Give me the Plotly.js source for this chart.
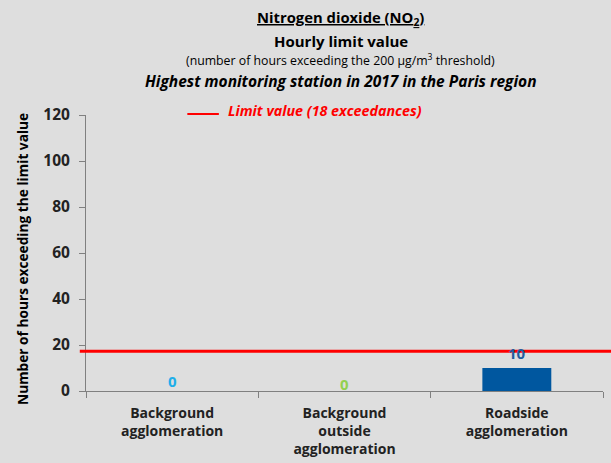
<!DOCTYPE html>
<html>
<head>
<meta charset="utf-8">
<script src="https://cdn.plot.ly/plotly-3.0.1.min.js"></script>
<style>html,body{margin:0;padding:0;background:#dedede;}</style>
</head>
<body>
<div id="chart" style="width:611px;height:463px;"></div>
<script>
const categories = ["Background<br>agglomeration", "Background<br>outside<br>agglomeration", "Roadside<br>agglomeration"];
const values = [0, 0, 10];
const labelColors = ["#20AEEA", "#92D050", "#1F5C9E"];
const labelShifts = [-2, -5, 3];
const limitLine = 17.3;
const limitLabel = "Limit value (18 exceedances)";
const yTicks = [0, 20, 40, 60, 80, 100, 120];

const FONT = "'Open Sans', Lato, sans-serif";
const TX = 0.493;

const trace = {
  type: "bar",
  x: categories,
  y: values,
  marker: {color: "#00579F"},
  width: 0.4,
  hoverinfo: "skip"
};

const annotations = categories.map((c, i) => ({
  x: c, y: values[i], xref: "x", yref: "y",
  text: "<b>" + values[i] + "</b>",
  showarrow: false, yanchor: "bottom", yshift: labelShifts[i],
  font: {family: FONT, size: 15, color: labelColors[i]}
}));

annotations.push(
  {xref: "paper", yref: "paper", x: TX, y: 1, yshift: 84, xanchor: "center", yanchor: "bottom",
   text: "<b><u>Nitrogen dioxide (NO<sub>2</sub>)</u></b>", showarrow: false,
   font: {family: FONT, size: 14.8, color: "#000"}},
  {xref: "paper", yref: "paper", x: TX, y: 1, yshift: 62, xanchor: "center", yanchor: "bottom",
   text: "<b>Hourly limit value</b>", showarrow: false,
   font: {family: FONT, size: 15, color: "#000"}},
  {xref: "paper", yref: "paper", x: TX, y: 1, yshift: 44, xanchor: "center", yanchor: "bottom",
   text: "(number of hours exceeding the 200 µg/m<sup>3</sup> threshold)", showarrow: false,
   font: {family: FONT, size: 12.3, color: "#000"}},
  {xref: "paper", yref: "paper", x: TX, y: 1, yshift: 21, xanchor: "center", yanchor: "bottom",
   text: "<b><i>Highest monitoring station in 2017 in the Paris region</i></b>", showarrow: false,
   font: {family: FONT, size: 15.5, color: "#000"}},
  {xref: "paper", yref: "paper", x: 0.27, y: 1, yshift: -7, xanchor: "left", yanchor: "bottom",
   text: "<b><i>" + limitLabel + "</i></b>", showarrow: false,
   font: {family: FONT, size: 14.3, color: "#FF0000"}},
  {xref: "paper", yref: "paper", x: -0.124, y: 0.478, xanchor: "center", yanchor: "middle",
   textangle: -90, text: "<b>Number of hours exceeding the limit value</b>", showarrow: false,
   font: {family: FONT, size: 13.7, color: "#000"}}
);

const layout = {
  width: 611, height: 463,
  paper_bgcolor: "#dedede", plot_bgcolor: "#dedede",
  margin: {l: 86, r: 8, t: 115, b: 72},
  showlegend: false,
  xaxis: {
    type: "category",
    showgrid: false, zeroline: false,
    showline: true, linecolor: "#808080", linewidth: 1,
    ticks: "outside", tickson: "boundaries", ticklen: 6, tickcolor: "#808080",
    tickfont: {family: FONT, size: 14, color: "#222", weight: "bold"},
    ticklabelstandoff: 9,
    fixedrange: true
  },
  yaxis: {
    range: [0, 120], tickvals: yTicks,
    showgrid: false, zeroline: false,
    showline: true, linecolor: "#808080", linewidth: 1,
    ticks: "outside", ticklen: 6, tickcolor: "#808080",
    tickfont: {family: FONT, size: 15.5, color: "#222", weight: "bold"},
    ticklabelstandoff: 6,
    fixedrange: true
  },
  shapes: [
    {type: "line", xref: "paper", yref: "y", x0: -0.012, x1: 1.02, y0: limitLine, y1: limitLine,
     line: {color: "#FF0000", width: 3}, layer: "above"},
    {type: "line", xref: "paper", yref: "paper", x0: 0.196, x1: 0.257, y0: 1, y1: 1,
     ysizemode: "pixel", yanchor: 1, line: {color: "#FF0000", width: 2}}
  ],
  annotations: annotations
};

Plotly.newPlot("chart", [trace], layout, {displayModeBar: false, staticPlot: true});
</script>
</body>
</html>
